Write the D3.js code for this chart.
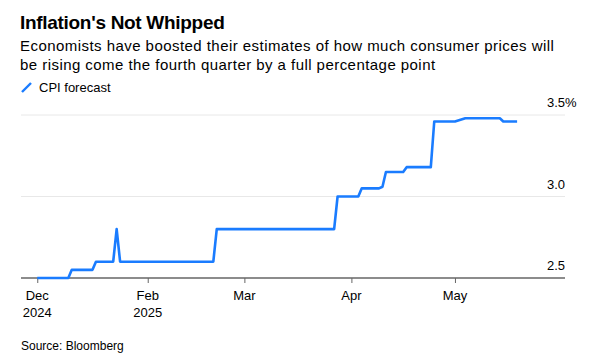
<!DOCTYPE html>
<meta charset="utf-8">
<style>
body { margin: 0; background: #fff; }
text { font-family: "Liberation Sans", Arial, sans-serif; fill: #000; }
.grid line { stroke: #e8e8e8; stroke-width: 1; }
.cpi { fill: none; stroke: #1a7cff; stroke-width: 2.6; stroke-linejoin: round; }
</style>
<body>
<script src="https://cdn.jsdelivr.net/npm/d3@7"></script>
<script>
// CPI forecast (change points)
var dates = ["2024-12-31","2025-01-09","2025-01-10","2025-01-16","2025-01-17","2025-01-22",
             "2025-01-23","2025-01-24","2025-02-20","2025-02-21","2025-03-27","2025-03-28",
             "2025-04-03","2025-04-04","2025-04-09","2025-04-10","2025-04-11","2025-04-16",
             "2025-04-17","2025-04-24","2025-04-25","2025-05-01","2025-05-04","2025-05-14",
             "2025-05-15","2025-05-19"];
var cpi = [2.5,2.5,2.55,2.55,2.6,2.6,
           2.8,2.6,2.6,2.8,2.8,3.0,
           3.0,3.05,3.05,3.06,3.15,3.15,
           3.18,3.18,3.46,3.46,3.48,3.48,
           3.46,3.46];
var tickDates = ["2024-12-31","2025-02-01","2025-03-01","2025-04-01","2025-05-01"];
var tickMonths = ["Dec","Feb","Mar","Apr","May"];
var tickYears = ["2024","2025","","",""];
var yTicks = [2.5, 3.0, 3.5];
var yLabels = ["2.5","3.0","3.5%"];

var parse = d3.timeParse("%Y-%m-%d");
var data = dates.map(function(d, i) { return {date: parse(d), value: cpi[i]}; });

var W = 593, H = 361;
var svg = d3.select("body").append("svg")
    .attr("width", W)
    .attr("height", H);

// headings
svg.append("text").attr("x", 20).attr("y", 29)
    .style("font-size", "19px").style("font-weight", "bold")
    .style("letter-spacing", "-0.3px")
    .text("Inflation's Not Whipped");
svg.append("text").attr("x", 20).attr("y", 51)
    .style("font-size", "15px").style("letter-spacing", "0.45px")
    .text("Economists have boosted their estimates of how much consumer prices will");
svg.append("text").attr("x", 20).attr("y", 70)
    .style("font-size", "15px").style("letter-spacing", "0.45px")
    .text("be rising come the fourth quarter by a full percentage point");

// legend
svg.append("line").attr("x1", 22).attr("y1", 92).attr("x2", 31).attr("y2", 83)
    .attr("stroke", "#1a7cff").attr("stroke-width", 2.4);
svg.append("text").attr("x", 39).attr("y", 92)
    .style("font-size", "13px")
    .text("CPI forecast");

// scales
var x = d3.scaleTime()
    .domain([new Date(2024, 11, 26, 7), new Date(2025, 5, 1, 21)])
    .range([21, 565]);
var y = d3.scaleLinear().domain([2.5, 3.5]).range([278, 115]);

// gridlines
svg.append("g").attr("class", "grid")
  .selectAll("line")
  .data(yTicks.slice(1))
  .enter().append("line")
    .attr("x1", 21).attr("x2", 565)
    .attr("y1", function(d) { return y(d); })
    .attr("y2", function(d) { return y(d); });

// y labels, sitting above their gridlines on the right
svg.append("g").selectAll("text")
  .data(yTicks)
  .enter().append("text")
    .attr("x", 547)
    .attr("y", function(d) { return y(d) - 8; })
    .style("font-size", "13px")
    .text(function(d, i) { return yLabels[i]; });

// x axis
var xAxis = d3.axisBottom(x)
    .tickValues(tickDates.map(parse))
    .tickSize(5)
    .tickFormat("");
var gx = svg.append("g")
    .attr("transform", "translate(0,278)")
    .call(xAxis);
gx.select(".domain").attr("stroke", "#8c8c8c").attr("stroke-width", 2)
    .attr("d", "M21,0H565");
gx.selectAll(".tick line").attr("stroke", "#666").attr("stroke-width", 1);

svg.append("g").selectAll("text")
  .data(tickDates)
  .enter().append("text")
    .attr("x", function(d) { return x(parse(d)); })
    .attr("y", 300)
    .attr("text-anchor", "middle")
    .style("font-size", "13px")
    .text(function(d, i) { return tickMonths[i]; });
svg.append("g").selectAll("text")
  .data(tickDates)
  .enter().append("text")
    .attr("x", function(d) { return x(parse(d)); })
    .attr("y", 317)
    .attr("text-anchor", "middle")
    .style("font-size", "13px")
    .text(function(d, i) { return tickYears[i]; });

// the line
var line = d3.line()
    .x(function(d) { return x(d.date); })
    .y(function(d) { return y(d.value); });
svg.append("path").datum(data)
    .attr("class", "cpi")
    .attr("d", line);

// source
svg.append("text").attr("x", 21).attr("y", 350)
    .style("font-size", "12px")
    .text("Source: Bloomberg");
</script>
</body>
